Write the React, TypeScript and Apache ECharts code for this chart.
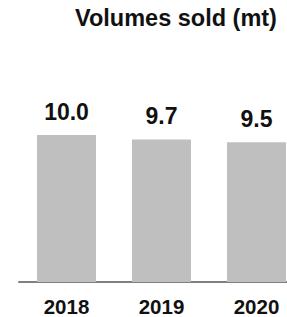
import React, { useEffect, useRef } from "react";
import * as echarts from "echarts";

const titleText = "Volumes sold (mt)";
const categories = ["2018", "2019", "2020"];
const volumes = [10.0, 9.7, 9.5];

const FONT = "'Liberation Sans', Arial, sans-serif";

export default function App() {
  const ref = useRef<HTMLDivElement>(null);
  useEffect(() => {
    if (!ref.current) return;
    const chart = echarts.init(ref.current, null, { renderer: "svg" });
    chart.setOption({
      animation: false,
      backgroundColor: "#ffffff",
      title: {
        text: titleText,
        left: 75,
        top: 6,
        padding: 0,
        textStyle: {
          fontFamily: FONT,
          fontWeight: "bold",
          fontSize: 23.5,
          color: "#111111",
        },
      },
      grid: { left: 19, right: 0, top: 135, bottom: 35, containLabel: false },
      xAxis: {
        type: "category",
        data: categories,
        axisLine: { show: true, lineStyle: { color: "#808080", width: 2 } },
        axisTick: { show: false },
        axisLabel: {
          fontFamily: FONT,
          fontWeight: "bold",
          fontSize: 20.5,
          color: "#111111",
          margin: 14,
        },
      },
      yAxis: {
        type: "value",
        min: 0,
        max: 10,
        show: false,
        splitLine: { show: false },
      },
      series: [
        {
          type: "bar",
          data: volumes,
          barWidth: 59,
          itemStyle: { color: "#bfbfbf" },
          label: {
            show: true,
            position: "top",
            distance: 12,
            fontFamily: FONT,
            fontWeight: "bold",
            fontSize: 23,
            color: "#111111",
            formatter: (p: any) => Number(p.value).toFixed(1),
          },
        },
      ],
    });
    return () => chart.dispose();
  }, []);
  return (
    <div style={{ width: 287, height: 317, position: "absolute", left: 0, top: 0, overflow: "hidden" }}>
      <div ref={ref} style={{ width: 304, height: 317 }} />
    </div>
  );
}
